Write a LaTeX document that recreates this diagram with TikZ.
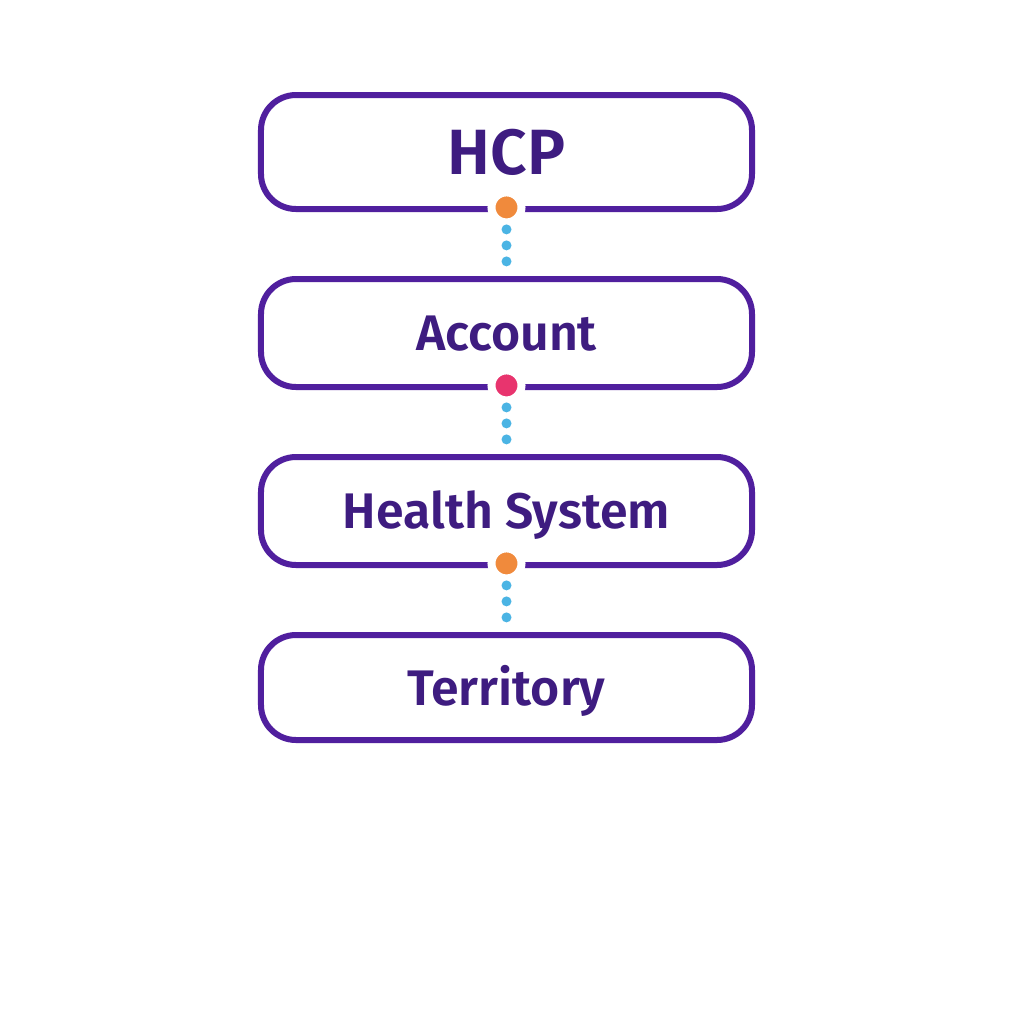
\documentclass[tikz,border=0pt]{standalone}
\usepackage{fontspec}
\setmainfont{Fira Sans}[BoldFont={Fira Sans SemiBold}]
\usetikzlibrary{matrix}
\definecolor{boxpurple}{RGB}{80,31,158}
\definecolor{txtpurple}{RGB}{62,28,128}
\definecolor{hubOrange}{RGB}{240,138,60}
\definecolor{hubPink}{RGB}{232,52,110}
\definecolor{linkBlue}{RGB}{75,180,228}
\tikzset{
	level/.style={draw=boxpurple, line width=3pt, rounded corners=17.5pt,
		minimum width=245.5pt, minimum height=54pt, inner sep=0pt,
		text=txtpurple, font=\bfseries\fontsize{25}{30}\selectfont,
		text height=17.5pt, text depth=0pt},
	hub/.style={circle, fill=#1, draw=white, line width=4pt,
		minimum size=15pt, inner sep=0pt},
	link/.style={draw=linkBlue, line width=5pt, line cap=round,
		dash pattern=on 0pt off 8pt, dash phase=6.5pt, shorten >=5pt}
}

\begin{document}
\begin{tikzpicture}[x=0.5pt,y=-0.5pt]
\useasboundingbox[fill=white] (0,0) rectangle (1024,1024);
\matrix (m) [matrix of nodes, row sep=32pt, nodes={level}, anchor=north, inner sep=0pt, outer sep=0pt] at (506.5,92)
{
	|[minimum height=57pt, font=\bfseries\fontsize{32}{38}\selectfont, text height=22pt]| HCP \\
	Account \\
	Health System \\
	|[minimum height=52.5pt]| Territory \\
};
% hubs on the lower edges
\node[hub=hubOrange] (h1) at ([yshift=0.8pt]m-1-1.south) {};
\node[hub=hubPink] (h2) at ([yshift=0.8pt]m-2-1.south) {};
\node[hub=hubOrange] (h3) at ([yshift=0.8pt]m-3-1.south) {};
\path[link]
(h1) edge (m-2-1)
(h2) edge (m-3-1)
(h3) edge (m-4-1)
;
\end{tikzpicture}
\end{document}
